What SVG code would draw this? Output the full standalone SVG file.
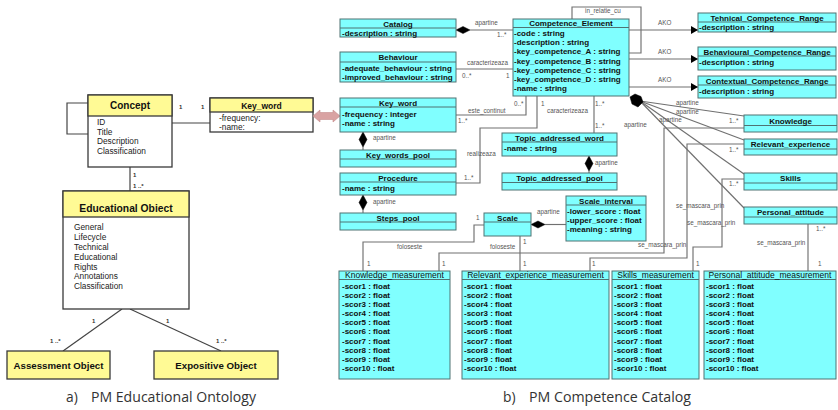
<svg xmlns="http://www.w3.org/2000/svg" width="838" height="410" viewBox="0 0 838 410">
<defs>
<style>
.wb{fill:#fff;stroke:#3a3a3a;stroke-width:1.3}
.yb{fill:#FFFA95;stroke:#3a3a3a;stroke-width:1.3}
.cb{fill:#80FFFF;stroke:#4f7373;stroke-width:1}
.sp{stroke:#4f7373;stroke-width:1}
.ln{fill:none;stroke:#707070;stroke-width:1.15}
.lnL{fill:none;stroke:#444;stroke-width:1.2}
.dm{fill:#000;stroke:#000;stroke-width:0.5}
.t{font-family:"Liberation Sans",Arial,sans-serif;font-size:8px;font-weight:bold;fill:#111}
.tr{font-family:"Liberation Sans",Arial,sans-serif;font-size:8.5px;fill:#111}
.m{text-anchor:middle}
.lab{font-family:"Liberation Sans",Arial,sans-serif;font-size:6.3px;fill:#555}
.labL{font-family:"Liberation Sans",Arial,sans-serif;font-size:6px;font-weight:bold;fill:#333}
.yt{font-family:"Liberation Sans",Arial,sans-serif;font-weight:bold;fill:#111;text-anchor:middle}
.ya{font-family:"Liberation Sans",Arial,sans-serif;font-size:8.3px;fill:#222}
.cap{font-family:"Open Sans","Liberation Sans",sans-serif;font-size:13.8px;fill:#333}
</style>
<marker id="tri" markerWidth="8" markerHeight="8" refX="7" refY="4" orient="auto" markerUnits="userSpaceOnUse">
<path d="M0,0 L7,4 L0,8 Z" fill="#000"/>
</marker>
</defs>
<rect width="838" height="410" fill="#fff"/>

<!-- Left panel connectors -->
<g id="connectors-left">
<polyline class="lnL" points="88,103 67,103 67,134 88,134"/>
<line class="lnL" x1="172" y1="123" x2="210" y2="123"/>
<line class="lnL" x1="130" y1="167" x2="130" y2="191"/>
<line class="lnL" x1="122" y1="309" x2="63" y2="351"/>
<line class="lnL" x1="130" y1="309" x2="221" y2="351"/>
<text class="labL" x="179" y="109">1</text>
<text class="labL" x="201" y="109">1</text>
<text class="labL" x="133" y="177">1</text>
<text class="labL" x="133" y="188">1 ..*</text>
<text class="labL" x="92" y="323">1</text>
<text class="labL" x="50" y="343">1 ..*</text>
<text class="labL" x="166" y="323">1</text>
<text class="labL" x="216" y="343">1 ..*</text>
</g>

<g id="concept">
<rect class="wb" x="88" y="95" width="84" height="72"/>
<rect class="yb" x="88" y="95" width="84" height="21"/>
<text class="yt" x="130" y="108.5" font-size="10">Concept</text>
<text class="ya" x="97" y="125">ID</text>
<text class="ya" x="97" y="134.5">Title</text>
<text class="ya" x="97" y="144">Description</text>
<text class="ya" x="97" y="153.5">Classification</text>
</g>

<g id="keyword-left">
<rect class="wb" x="210" y="98" width="103" height="34"/>
<rect class="yb" x="210" y="98" width="103" height="14"/>
<text class="yt" x="261.5" y="108.5" font-size="8.5">Key_word</text>
<text class="ya" x="219" y="120.5" font-size="7.5">-frequency:</text>
<text class="ya" x="219" y="130" font-size="7.5">-name:</text>
</g>

<g id="educational-object">
<rect class="wb" x="63" y="191" width="126" height="118"/>
<rect class="yb" x="63" y="191" width="126" height="26"/>
<text class="yt" x="126" y="211.5" font-size="10.3">Educational Obiect</text>
<text class="ya" x="74" y="230">General</text>
<text class="ya" x="74" y="240">Lifecycle</text>
<text class="ya" x="74" y="250">Technical</text>
<text class="ya" x="74" y="260">Educational</text>
<text class="ya" x="74" y="269.5">Rights</text>
<text class="ya" x="74" y="279">Annotations</text>
<text class="ya" x="74" y="289">Classification</text>
</g>

<g id="assessment-object">
<rect class="yb" x="7" y="351" width="103" height="28"/>
<text class="yt" x="58.5" y="368.5" font-size="9.7">Assessment Object</text>
</g>

<g id="expositive-object">
<rect class="yb" x="154" y="351" width="124" height="28"/>
<text class="yt" x="216" y="368.5" font-size="9.7">Expositive Object</text>
</g>

<g id="link-arrow">
<polygon points="313,116 320,110 320,112.5 333,112.5 333,110 340,116 333,122 333,119.5 320,119.5 320,122" fill="#D9A2A2" stroke="#C48C8C" stroke-width="0.6"/>
</g>

<!-- Right panel connectors -->
<g id="connectors">
<line class="ln" x1="470" y1="30" x2="513" y2="30"/>
<polygon class="dm" points="456,30 463,26.5 470,30 463,33.5"/>
<line class="ln" x1="456" y1="69" x2="513" y2="69"/>
<polyline class="ln" points="456,115 526,115 526,96"/>
<polyline class="ln" points="456,183 480,183 480,128 537,128 537,96"/>
<line class="ln" x1="594" y1="96" x2="594" y2="133"/>
<polyline class="ln" points="572,19 572,7 641,7 641,53 629,53"/>
<line class="ln" x1="629" y1="30" x2="698" y2="30" marker-end="url(#tri)"/>
<line class="ln" x1="629" y1="59" x2="698" y2="59" marker-end="url(#tri)"/>
<line class="ln" x1="629" y1="87" x2="698" y2="87" marker-end="url(#tri)"/>
<line class="ln" x1="640" y1="101" x2="744" y2="116"/>
<line class="ln" x1="640" y1="101" x2="744" y2="140"/>
<line class="ln" x1="640" y1="101" x2="744" y2="174"/>
<line class="ln" x1="640" y1="101" x2="744" y2="208"/>
<polygon class="dm" points="630,97 635,94 641,96.5 643,102 638,107 632,104"/>
<polyline class="ln" points="744,128 664,128 664,253 439,253 439,271"/>
<polyline class="ln" points="744,144 687,144 687,258 590,258 590,271"/>
<polyline class="ln" points="744,179 722,179 722,247 693,247 693,271"/>
<line class="ln" x1="808" y1="224" x2="808" y2="271"/>
<polyline class="ln" points="484,225 474,225 474,242 363,242 363,271"/>
<line class="ln" x1="520" y1="236" x2="520" y2="271"/>
<line class="ln" x1="545" y1="224.5" x2="566" y2="224.5"/>
<polygon class="dm" points="531,224.5 538,221 545,224.5 538,228"/>
<line class="ln" x1="363" y1="147" x2="363" y2="150"/>
<polygon class="dm" points="363,132 367,139.5 363,147 359,139.5"/>
<line class="ln" x1="363" y1="210" x2="363" y2="213"/>
<polygon class="dm" points="363,195 367,202.5 363,210 359,202.5"/>
<line class="ln" x1="589" y1="171" x2="589" y2="173"/>
<polygon class="dm" points="589,156 593,163.5 589,171 585,163.5"/>

<text class="lab" x="475" y="25">apartine</text>
<text class="lab" x="497" y="37">1..*</text>
<text class="lab" x="467" y="65">caracterizeaza</text>
<text class="lab" x="462" y="78">0..*</text>
<text class="lab" x="506" y="78">1</text>
<text class="lab" x="468" y="113">este_continut</text>
<text class="lab" x="458" y="123">1..*</text>
<text class="lab" x="514" y="106">0..*</text>
<text class="lab" x="541" y="106">1</text>
<text class="lab" x="547" y="113">caracterizeaza</text>
<text class="lab" x="595" y="106">1..*</text>
<text class="lab" x="595" y="128">1..*</text>
<text class="lab" x="467" y="156">realizeaza</text>
<text class="lab" x="464" y="180">1..*</text>
<text class="lab" x="585" y="13">in_relatie_cu</text>
<text class="lab" x="658" y="25">AKO</text>
<text class="lab" x="658" y="54">AKO</text>
<text class="lab" x="658" y="82">AKO</text>
<text class="lab" x="676" y="105">apartine</text>
<text class="lab" x="676" y="114">apartine</text>
<text class="lab" x="659" y="122">apartine</text>
<text class="lab" x="624" y="127">apartine</text>
<text class="lab" x="729" y="123">1..*</text>
<text class="lab" x="729" y="152">1..*</text>
<text class="lab" x="729" y="186">1..*</text>
<text class="lab" x="816" y="231">1..*</text>
<text class="lab" x="373" y="140">apartine</text>
<text class="lab" x="373" y="204">apartine</text>
<text class="lab" x="595" y="165">apartine</text>
<text class="lab" x="537" y="214">apartine</text>
<text class="lab" x="476" y="220">1</text>
<text class="lab" x="523" y="244">1</text>
<text class="lab" x="397" y="249">foloseste</text>
<text class="lab" x="490" y="249">foloseste</text>
<text class="lab" x="676" y="208">se_mascara_prin</text>
<text class="lab" x="687" y="225">se_mascara_prin</text>
<text class="lab" x="638" y="247">se_mascara_prin</text>
<text class="lab" x="757" y="245">se_mascara_prin</text>
<text class="lab" x="367" y="266">1</text>
<text class="lab" x="442" y="266">1</text>
<text class="lab" x="523" y="266">1</text>
<text class="lab" x="592" y="266">1</text>
<text class="lab" x="696" y="266">1</text>
<text class="lab" x="818" y="266">1</text>
</g>

<g id="catalog">
<rect class="cb" x="340" y="19" width="116" height="18"/>
<line class="sp" x1="340" y1="28" x2="456" y2="28"/>
<text class="t m" x="398" y="26.5">Catalog</text>
<text class="t" x="342" y="36">-description : string</text>
</g>

<g id="behaviour">
<rect class="cb" x="340" y="52" width="116" height="30"/>
<line class="sp" x1="340" y1="62" x2="456" y2="62"/>
<text class="t m" x="398" y="60">Behaviour</text>
<text class="t" x="342" y="71">-adequate_behaviour : string</text>
<text class="t" x="342" y="80">-improved_behaviour : string</text>
</g>

<g id="key-word">
<rect class="cb" x="340" y="98" width="116" height="34"/>
<line class="sp" x1="340" y1="107" x2="456" y2="107"/>
<text class="t m" x="398" y="106">Key_word</text>
<text class="t" x="342" y="116.5">-frequency : integer</text>
<text class="t" x="342" y="126">-name : string</text>
</g>

<g id="key-words-pool">
<rect class="cb" x="340" y="150" width="116" height="17"/>
<line class="sp" x1="340" y1="159" x2="456" y2="159"/>
<text class="t m" x="398" y="158">Key_words_pool</text>
</g>

<g id="procedure">
<rect class="cb" x="340" y="173" width="116" height="22"/>
<line class="sp" x1="340" y1="182" x2="456" y2="182"/>
<text class="t m" x="398" y="180.5">Procedure</text>
<text class="t" x="342" y="191">-name : string</text>
</g>

<g id="steps-pool">
<rect class="cb" x="340" y="213" width="116" height="17"/>
<line class="sp" x1="340" y1="222" x2="456" y2="222"/>
<text class="t m" x="398" y="221">Steps_pool</text>
</g>

<g id="competence-element">
<rect class="cb" x="513" y="19" width="116" height="77"/>
<line class="sp" x1="513" y1="27.5" x2="629" y2="27.5"/>
<text class="t m" x="571" y="26">Competence_Element</text>
<text class="t" x="514" y="36">-code : string</text>
<text class="t" x="514" y="45.2">-description : string</text>
<text class="t" x="514" y="54.3">-key_competence_A : string</text>
<text class="t" x="514" y="63.5">-key_competence_B : string</text>
<text class="t" x="514" y="72.6">-key_competence_C : string</text>
<text class="t" x="514" y="81.8">-key_competence_D : string</text>
<text class="t" x="514" y="90.9">-name : string</text>
</g>

<g id="topic-addressed-word">
<rect class="cb" x="502" y="133" width="115" height="23"/>
<line class="sp" x1="502" y1="142" x2="617" y2="142"/>
<text class="t m" x="559.5" y="140.5">Topic_addressed_word</text>
<text class="t" x="504" y="151">-name : string</text>
</g>

<g id="topic-addressed-pool">
<rect class="cb" x="502" y="173" width="115" height="17"/>
<line class="sp" x1="502" y1="182.5" x2="617" y2="182.5"/>
<text class="t m" x="559.5" y="181">Topic_addressed_pool</text>
</g>

<g id="scale">
<rect class="cb" x="484" y="213" width="47" height="23"/>
<line class="sp" x1="484" y1="222" x2="531" y2="222"/>
<text class="t m" x="507.5" y="220.5">Scale</text>
</g>

<g id="scale-interval">
<rect class="cb" x="566" y="196" width="80" height="45"/>
<line class="sp" x1="566" y1="205" x2="646" y2="205"/>
<text class="t m" x="606" y="203.5">Scale_interval</text>
<text class="t" x="567" y="214">-lower_score : float</text>
<text class="t" x="567" y="223">-upper_score : float</text>
<text class="t" x="567" y="232">-meaning : string</text>
</g>

<g id="tehnical-competence-range">
<rect class="cb" x="698" y="13" width="138" height="19"/>
<line class="sp" x1="698" y1="22" x2="836" y2="22"/>
<text class="t m" x="767" y="20.5">Tehnical_Competence_Range</text>
<text class="t" x="699" y="30">-description : string</text>
</g>

<g id="behavioural-competence-range">
<rect class="cb" x="698" y="47" width="138" height="23"/>
<line class="sp" x1="698" y1="56" x2="836" y2="56"/>
<text class="t m" x="767" y="55">Behavioural_Competence_Range</text>
<text class="t" x="699" y="65">-description : string</text>
</g>

<g id="contextual-competence-range">
<rect class="cb" x="698" y="76" width="138" height="22"/>
<line class="sp" x1="698" y1="85" x2="836" y2="85"/>
<text class="t m" x="767" y="83.5">Contextual_Competence_Range</text>
<text class="t" x="699" y="93.5">-description : string</text>
</g>

<g id="knowledge">
<rect class="cb" x="744" y="115" width="93" height="17"/>
<line class="sp" x1="744" y1="125.5" x2="837" y2="125.5"/>
<text class="t m" x="790.5" y="123.5">Knowledge</text>
</g>

<g id="relevant-experience">
<rect class="cb" x="744" y="139" width="93" height="16"/>
<line class="sp" x1="744" y1="149" x2="837" y2="149"/>
<text class="t m" x="790.5" y="146.5">Relevant_experience</text>
</g>

<g id="skills">
<rect class="cb" x="744" y="173" width="93" height="17"/>
<line class="sp" x1="744" y1="183" x2="837" y2="183"/>
<text class="t m" x="790.5" y="181">Skills</text>
</g>

<g id="personal-attitude">
<rect class="cb" x="744" y="207" width="93" height="17"/>
<line class="sp" x1="744" y1="217" x2="837" y2="217"/>
<text class="t m" x="790.5" y="215">Personal_attitude</text>
</g>

<g id="knowledge-measurement">
<rect class="cb" x="339" y="271" width="111" height="108"/>
<line class="sp" x1="339" y1="279.5" x2="450" y2="279.5"/>
<text class="tr m" x="394.5" y="278">Knowledge_measurement</text>
<text class="t" x="342" y="288.7">-scor1 : float</text>
<text class="t" x="342" y="297.8">-scor2 : float</text>
<text class="t" x="342" y="307">-scor3 : float</text>
<text class="t" x="342" y="316.1">-scor4 : float</text>
<text class="t" x="342" y="325.3">-scor5 : float</text>
<text class="t" x="342" y="334.4">-scor6 : float</text>
<text class="t" x="342" y="343.6">-scor7 : float</text>
<text class="t" x="342" y="352.7">-scor8 : float</text>
<text class="t" x="342" y="361.9">-scor9 : float</text>
<text class="t" x="342" y="371">-scor10 : float</text>
</g>

<g id="relevant-experience-measurement">
<rect class="cb" x="462" y="271" width="147" height="108"/>
<line class="sp" x1="462" y1="279.5" x2="609" y2="279.5"/>
<text class="tr m" x="535.5" y="278">Relevant_experience_measurement</text>
<text class="t" x="464" y="288.7">-scor1 : float</text>
<text class="t" x="464" y="297.8">-scor2 : float</text>
<text class="t" x="464" y="307">-scor4 : float</text>
<text class="t" x="464" y="316.1">-scor3 : float</text>
<text class="t" x="464" y="325.3">-scor5 : float</text>
<text class="t" x="464" y="334.4">-scor6 : float</text>
<text class="t" x="464" y="343.6">-scor7 : float</text>
<text class="t" x="464" y="352.7">-scor8 : float</text>
<text class="t" x="464" y="361.9">-scor9 : float</text>
<text class="t" x="464" y="371">-scor10 : float</text>
</g>

<g id="skills-measurement">
<rect class="cb" x="612" y="271" width="87" height="108"/>
<line class="sp" x1="612" y1="279.5" x2="699" y2="279.5"/>
<text class="tr m" x="655.5" y="278">Skills_measurement</text>
<text class="t" x="614" y="288.7">-scor1 : float</text>
<text class="t" x="614" y="297.8">-scor2 : float</text>
<text class="t" x="614" y="307">-scor3 : float</text>
<text class="t" x="614" y="316.1">-scor4 : float</text>
<text class="t" x="614" y="325.3">-scor5 : float</text>
<text class="t" x="614" y="334.4">-scor6 : float</text>
<text class="t" x="614" y="343.6">-scor7 : float</text>
<text class="t" x="614" y="352.7">-scor8 : float</text>
<text class="t" x="614" y="361.9">-scor9 : float</text>
<text class="t" x="614" y="371">-scor10 : float</text>
</g>

<g id="personal-attitude-measurement">
<rect class="cb" x="704" y="271" width="132" height="108"/>
<line class="sp" x1="704" y1="279.5" x2="836" y2="279.5"/>
<text class="tr m" x="770" y="278">Personal_attitude_measurement</text>
<text class="t" x="706" y="288.7">-scor1 : float</text>
<text class="t" x="706" y="297.8">-scor2 : float</text>
<text class="t" x="706" y="307">-scor3 : float</text>
<text class="t" x="706" y="316.1">-scor4 : float</text>
<text class="t" x="706" y="325.3">-scor5 : float</text>
<text class="t" x="706" y="334.4">-scor6 : float</text>
<text class="t" x="706" y="343.6">-scor7 : float</text>
<text class="t" x="706" y="352.7">-scor8 : float</text>
<text class="t" x="706" y="361.9">-scor9 : float</text>
<text class="t" x="706" y="371">-scor10 : float</text>
</g>

<g id="captions">
<text class="cap" x="66" y="402">a)</text>
<text class="cap" x="91" y="402" textLength="165" lengthAdjust="spacingAndGlyphs">PM Educational Ontology</text>
<text class="cap" x="503" y="402">b)</text>
<text class="cap" x="529" y="402" textLength="162" lengthAdjust="spacingAndGlyphs">PM Competence Catalog</text>
</g>
</svg>
